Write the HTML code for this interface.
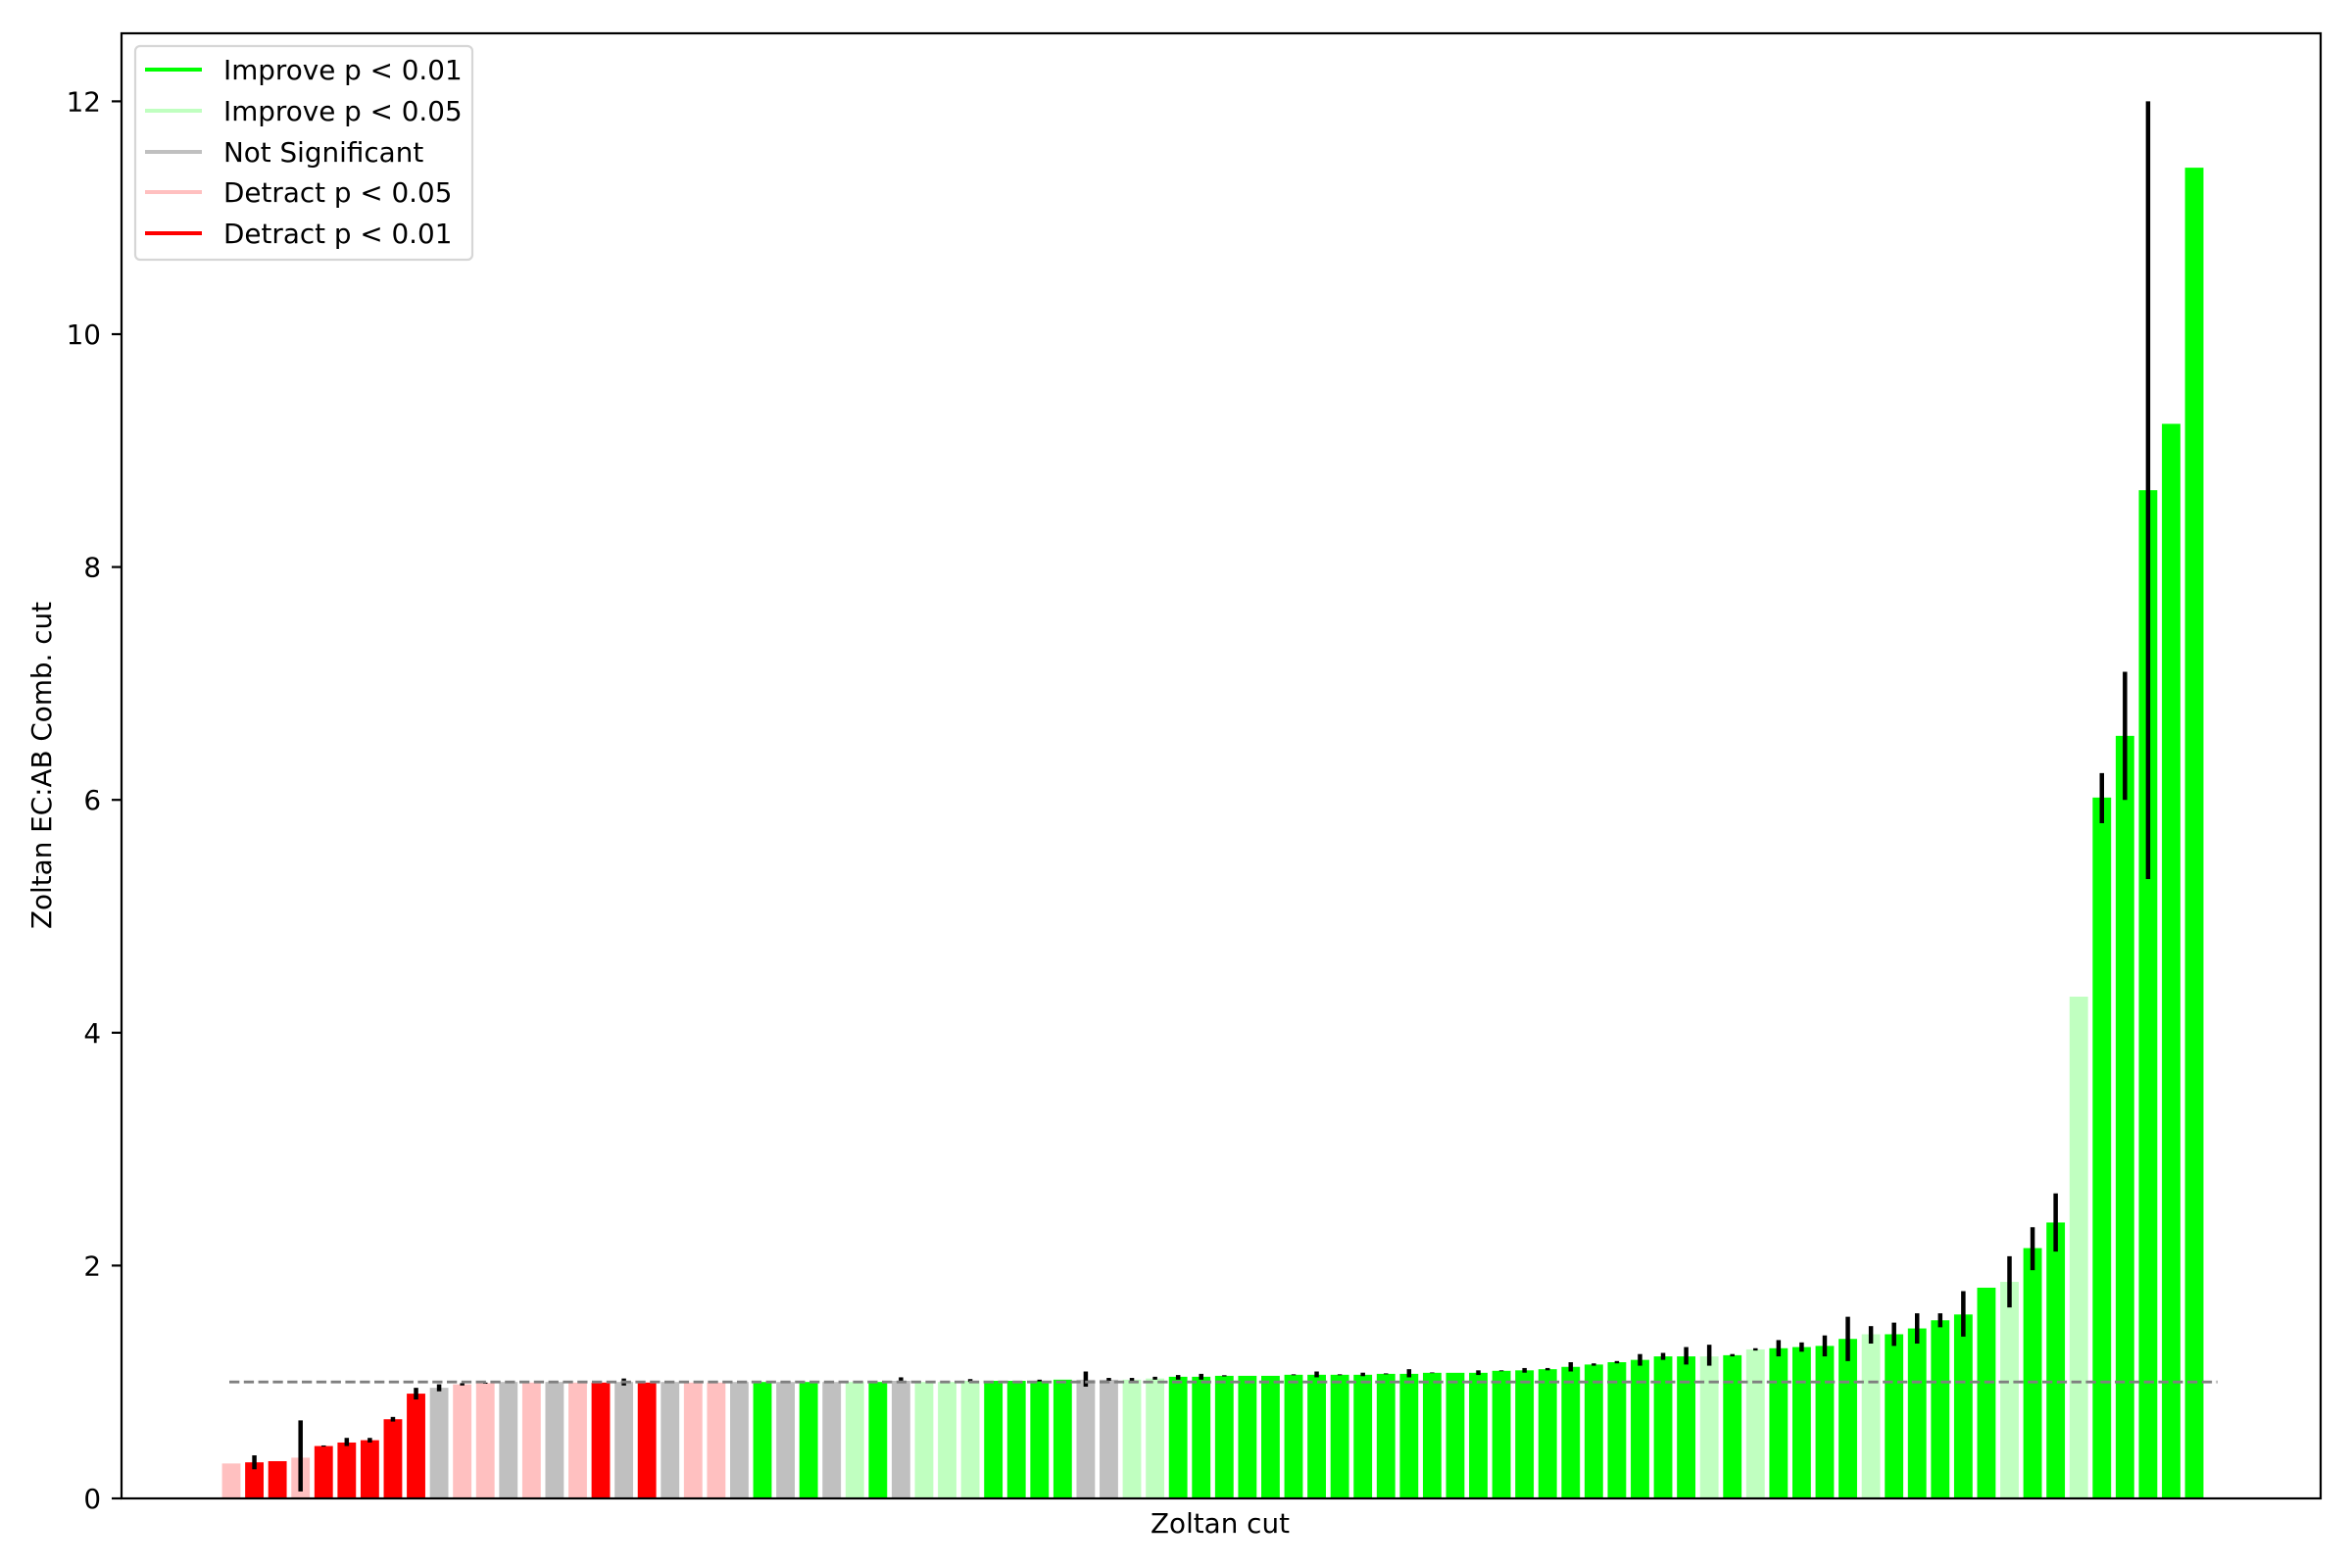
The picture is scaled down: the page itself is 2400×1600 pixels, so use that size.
<!DOCTYPE html>
<html><head><meta charset="utf-8"><style>
html,body{margin:0;padding:0;background:#fff;}
svg{display:block;}
text{font-family:"DejaVu Sans","Liberation Sans",sans-serif;fill:#000;}
</style></head><body>
<svg id="chart" width="2400" height="1600" viewBox="0 0 2400 1600" xmlns="http://www.w3.org/2000/svg">
<rect x="0" y="0" width="2400" height="1600" fill="#fff"/>
<g id="bars"></g>
<g id="errs"></g>
<line id="refline" stroke="#808080" stroke-width="2.8" stroke-dasharray="10.3,4.5"/>
<g id="yticks"></g>
<rect x="124" y="34" width="2244" height="1495" fill="none" stroke="#000" stroke-width="2.2"/>
<text x="1245" y="1564" font-size="27.8" text-anchor="middle">Zoltan cut</text>
<text x="52" y="781" font-size="27.8" text-anchor="middle" transform="rotate(-90 52 781)">Zoltan EC:AB Comb. cut</text>
<g>
<rect x="138" y="47" width="344" height="218" rx="5" fill="#fff" fill-opacity="0.8" stroke="#d6d6d6" stroke-width="2.2"/>
<line x1="148" y1="71" x2="206" y2="71" stroke="#00ff00" stroke-width="4"/>
<text x="228" y="81" font-size="27.8">Improve p &lt; 0.01</text>
<line x1="148" y1="113" x2="206" y2="113" stroke="#c0ffc0" stroke-width="4"/>
<text x="228" y="123" font-size="27.8">Improve p &lt; 0.05</text>
<line x1="148" y1="155" x2="206" y2="155" stroke="#c0c0c0" stroke-width="4"/>
<text x="228" y="165" font-size="27.8">Not Significant</text>
<line x1="148" y1="196" x2="206" y2="196" stroke="#ffc0c0" stroke-width="4"/>
<text x="228" y="206" font-size="27.8">Detract p &lt; 0.05</text>
<line x1="148" y1="238" x2="206" y2="238" stroke="#ff0000" stroke-width="4"/>
<text x="228" y="248" font-size="27.8">Detract p &lt; 0.01</text>
</g>
</svg>
<script>
const categories = ['p','R','R','p','R','R','R','R','R','n','p','p','n','p','n','p','R','n','R','n','p','p','n','G','n','G','n','g','G','n','g','g','g','G','G','G','G','n','n','g','g','G','G','G','G','G','G','G','G','G','G','G','G','G','G','G','G','G','G','G','G','G','G','G','g','G','g','G','G','G','G','g','G','G','G','G','G','g','G','G','g','G','G','G','G','G'];
const values = [0.30,0.31,0.32,0.35,0.45,0.48,0.50,0.68,0.90,0.95,0.98,0.99,1.0,0.995,1.0,0.995,0.995,1.0,0.995,1.0,0.995,0.995,1.0,1.0,1.0,1.0,1.0,1.0,1.0,1.01,1.0,1.0,1.01,1.01,1.01,1.01,1.02,1.02,1.02,1.02,1.03,1.045,1.045,1.053,1.053,1.053,1.062,1.062,1.062,1.062,1.07,1.07,1.079,1.079,1.079,1.096,1.10,1.11,1.13,1.15,1.17,1.19,1.22,1.22,1.22,1.23,1.28,1.29,1.30,1.31,1.37,1.41,1.41,1.46,1.53,1.58,1.81,1.86,2.15,2.37,4.31,6.02,6.55,8.66,9.23,11.43];
const errLow = [0,0.25,0,0.06,0.445,0.45,0.48,0.66,0.85,0.92,0.97,0.985,0,0,0,0,0,0.97,0,0,0,0,0.99,0,0,0,0,0,0,1.0,0,0.995,1.0,0,0,1.005,0,0.96,1.01,1.01,1.02,1.02,1.02,1.048,0,0,1.058,1.04,1.058,1.05,1.066,1.04,1.076,0,1.06,1.092,1.08,1.10,1.09,1.14,1.16,1.14,1.19,1.15,1.14,1.22,1.27,1.22,1.26,1.22,1.18,1.33,1.31,1.33,1.47,1.39,0,1.64,1.96,2.12,0,5.80,6.00,5.32,0,0];
const errHigh = [0,0.37,0,0.67,0.455,0.52,0.52,0.70,0.95,0.98,0.99,0.995,0,0,0,0,0,1.03,0,0,0,0,1.01,0,0,0,0,0,0,1.04,0,1.01,1.025,0,0,1.02,0,1.09,1.035,1.035,1.045,1.06,1.07,1.058,0,0,1.066,1.09,1.066,1.08,1.074,1.11,1.082,0,1.10,1.10,1.12,1.12,1.17,1.16,1.18,1.24,1.25,1.30,1.32,1.24,1.29,1.36,1.34,1.40,1.56,1.48,1.51,1.59,1.59,1.78,0,2.08,2.33,2.62,0,6.23,7.10,12.0,0,0];
const yTicks = [0,2,4,6,8,10,12];
const refValue = 1;
const colorMap = {G:'#00ff00', g:'#c0ffc0', n:'#c0c0c0', p:'#ffc0c0', R:'#ff0000'};
const X0 = 236, PITCH = 23.565, BW = 18.85;
function xScale(i){ return X0 + i*PITCH; }
function yScale(v){ return 1529 - v*118.8; }
const NS = 'http://www.w3.org/2000/svg';
const barsG = document.getElementById('bars');
const errsG = document.getElementById('errs');
values.forEach((v,i)=>{
  const r = document.createElementNS(NS,'rect');
  r.setAttribute('x', xScale(i)-BW/2);
  r.setAttribute('y', yScale(v));
  r.setAttribute('width', BW);
  r.setAttribute('height', yScale(0)-yScale(v));
  r.setAttribute('fill', colorMap[categories[i]]);
  
  
  barsG.appendChild(r);
  if (errHigh[i] > 0) {
    const l = document.createElementNS(NS,'line');
    l.setAttribute('x1', xScale(i)); l.setAttribute('x2', xScale(i));
    l.setAttribute('y1', yScale(errLow[i])); l.setAttribute('y2', yScale(errHigh[i]));
    l.setAttribute('stroke', '#000'); l.setAttribute('stroke-width', '4.5');
    
    
    errsG.appendChild(l);
  }
});
const ref = document.getElementById('refline');
ref.setAttribute('x1', xScale(0)-2); ref.setAttribute('x2', xScale(values.length));
ref.setAttribute('y1', yScale(refValue)); ref.setAttribute('y2', yScale(refValue));
const tg = document.getElementById('yticks');
yTicks.forEach(t=>{
  const l = document.createElementNS(NS,'line');
  l.setAttribute('x1', 114); l.setAttribute('x2', 124);
  l.setAttribute('y1', yScale(t)); l.setAttribute('y2', yScale(t));
  l.setAttribute('stroke', '#000'); l.setAttribute('stroke-width', '2.2');
  
  
  tg.appendChild(l);
  const tx = document.createElementNS(NS,'text');
  tx.setAttribute('x', 103); tx.setAttribute('y', yScale(t)+10);
  tx.setAttribute('font-size', '27.8'); tx.setAttribute('text-anchor', 'end');
  tx.textContent = t;
  
  
  tg.appendChild(tx);
});
</script>
</body></html>
